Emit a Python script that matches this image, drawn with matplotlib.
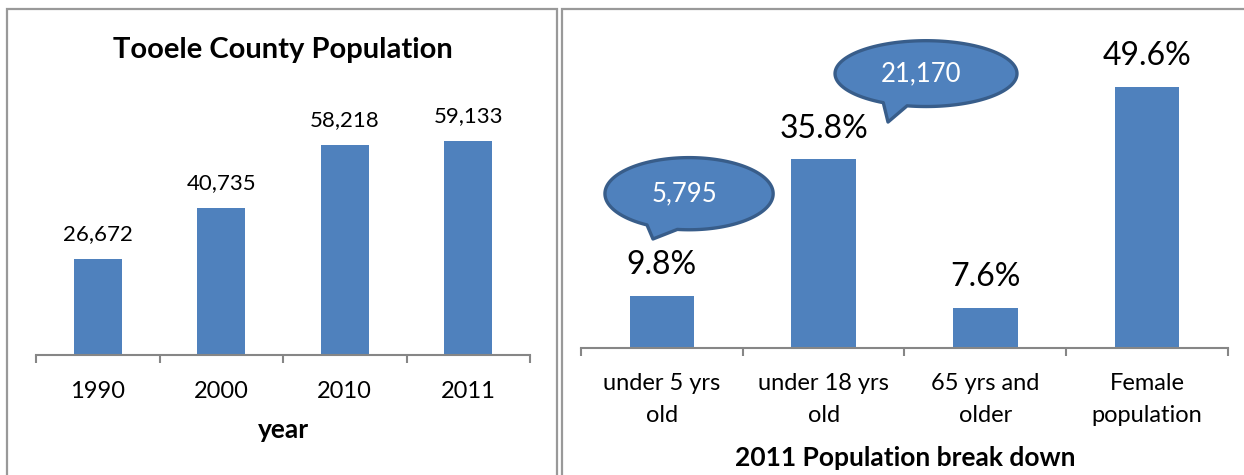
import numpy as np
import matplotlib
matplotlib.use('Agg')
import matplotlib.pyplot as plt
from matplotlib.patches import Polygon, Rectangle

plt.rcParams['font.family'] = ['Lato', 'DejaVu Sans']

# data
years = ['1990', '2000', '2010', '2011']
population = [26672, 40735, 58218, 59133]

groups = ['under 5 yrs\nold', 'under 18 yrs\nold', '65 yrs and\nolder', 'Female\npopulation']
share = [9.8, 35.8, 7.6, 49.6]

bubble_text = ['5,795', '21,170']
# bubble centre, width, height and tail tip, in data units of the right chart
bubble_center = [(0.168, 29.3), (1.633, 52.1)]
bubble_size = [(1.04, 13.7), (1.125, 12.5)]
bubble_tip = [(-0.055, 20.7), (1.398, 42.9)]
bubble_tail = [(240, 262), (242, 258)]

BLUE = '#4F81BD'
W, H = 1244, 475

fig = plt.figure(figsize=(W / 100, H / 100), dpi=100)


def px_axes(x0, y0, x1, y1):
    # pixel box (top-left origin) -> figure axes
    return fig.add_axes([x0 / W, 1 - y1 / H, (x1 - x0) / W, (y1 - y0) / H])


def style(ax, labels, pad):
    for s in ['top', 'right', 'left']:
        ax.spines[s].set_visible(False)
    ax.spines['bottom'].set_color('#868686')
    ax.spines['bottom'].set_linewidth(1.5)
    ax.set_yticks([])
    ax.set_xlim(-0.5, len(labels) - 0.5)
    ax.set_xticks(range(len(labels)))
    ax.set_xticklabels(labels, fontsize=17)
    for t in ax.get_xticklabels():
        t.set_linespacing(1.62)
    ax.tick_params(axis='x', which='major', length=0, pad=pad)
    ax.set_xticks(np.arange(-0.5, len(labels)), minor=True)
    ax.tick_params(axis='x', which='minor', length=6, width=1.5, color='#868686')
    ax.patch.set_alpha(0)


# panel frames
fig.add_artist(Rectangle((7 / W, -0.1), 550 / W, 1.1 - 9 / H, transform=fig.transFigure,
                         fill=False, edgecolor='#999999', lw=1.6))
fig.add_artist(Rectangle((562 / W, -0.1), 0.6, 1.1 - 9 / H, transform=fig.transFigure,
                         fill=False, edgecolor='#999999', lw=1.6))

# left chart
ax1 = px_axes(36, 102, 530, 355)
ax1.bar(range(len(years)), population, width=0.39, color=BLUE)
ax1.set_ylim(0, 70000)
style(ax1, years, 19)
for i, v in enumerate(population):
    ax1.annotate(f'{v:,}', (i, v), xytext=(0, 13.5), textcoords='offset points',
                 ha='center', va='baseline', fontsize=16)
fig.text(283 / W, 1 - 58 / H, 'Tooele County Population', ha='center', va='baseline',
         fontsize=21, fontweight='bold')
fig.text(283 / W, 1 - 438 / H, 'year', ha='center', va='baseline',
         fontsize=19, fontweight='bold')

# right chart
ax2 = px_axes(581, 32, 1228, 348)
ax2.bar(range(len(groups)), share, width=0.40, color=BLUE)
ax2.set_ylim(0, 60)
style(ax2, groups, 18)
for i, v in enumerate(share):
    ax2.annotate(f'{v}%', (i, v), xytext=(0, 15.8), textcoords='offset points',
                 ha='center', va='baseline', fontsize=23)
fig.text(905 / W, 1 - 466 / H, '2011 Population break down', ha='center', va='baseline',
         fontsize=19, fontweight='bold')

# speech bubbles
for txt, (cx, cy), (bw, bh), tip, (t0, t1) in zip(bubble_text, bubble_center, bubble_size,
                                                   bubble_tip, bubble_tail):
    th = np.radians(np.linspace(t1, 360 + t0, 200))
    pts = np.column_stack([cx + bw / 2 * np.cos(th), cy + bh / 2 * np.sin(th)])
    pts = np.vstack([pts, tip])
    ax2.add_patch(Polygon(pts, closed=True, facecolor=BLUE, edgecolor='#385D8A',
                          lw=2.4, joinstyle='round', clip_on=False, zorder=3))
    ax2.text(cx - 0.03, cy, txt, ha='center', va='center', color='white',
             fontsize=18.5, zorder=4)

fig.savefig('out.png', dpi=100)
